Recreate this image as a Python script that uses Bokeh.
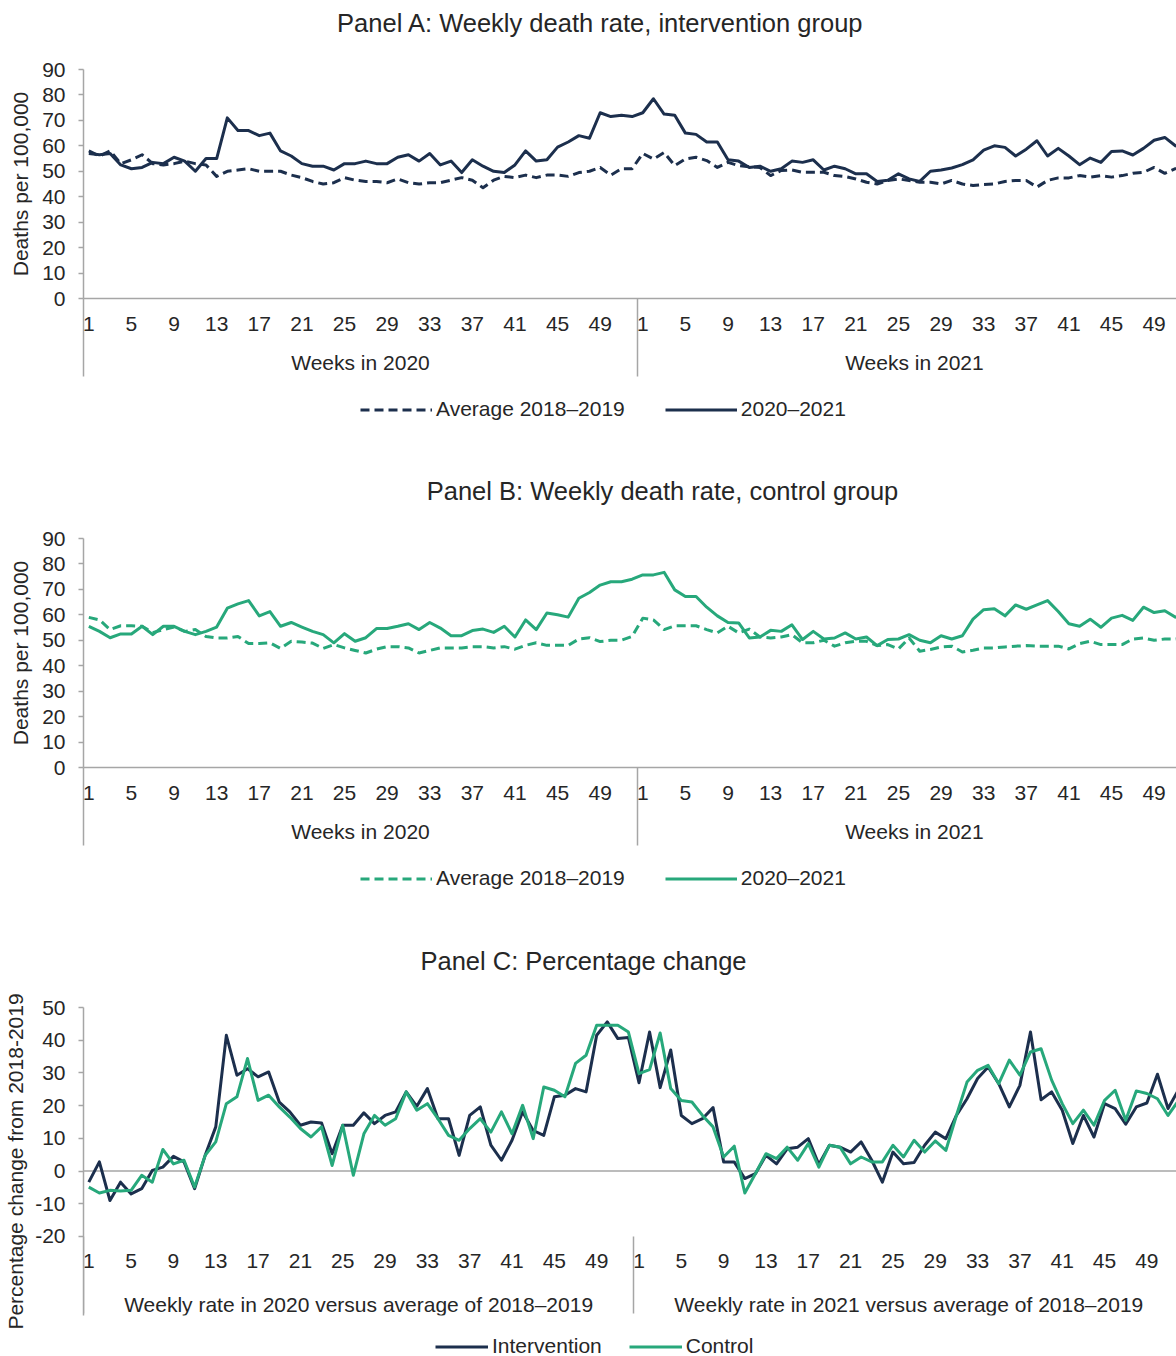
from bokeh.plotting import figure
from bokeh.models import LinearAxis, FixedTicker, Range1d, Span, Legend, LegendItem, Label
from bokeh.layouts import column
from bokeh.embed import file_html
from bokeh.resources import INLINE

# ---------------- data ----------------
weeks_2020 = list(range(1, 53))
weeks_2021 = list(range(1, 53))
tick_weeks = [1, 5, 9, 13, 17, 21, 25, 29, 33, 37, 41, 45, 49]

# Panel A: intervention group, deaths per 100,000
int_avg_2020 = [58, 56, 58, 53, 54.5, 56.5, 53, 52.5, 53, 54, 53, 52.5, 48, 50, 50.5, 51, 50, 50, 50, 48.5,
                47.5, 46, 45, 45.5, 47.5, 46.5, 46, 46, 45.5, 47, 45.5, 45, 45.5, 45.5, 46.5, 47.5, 46.5, 43.5,
                46.5, 48, 47.5, 48.5, 47.5, 48.5, 48.5, 48, 49.5, 50, 51.5, 48.5, 51, 51]
int_avg_2021 = [57, 54.8, 57.4, 52.2, 54.8, 55.5, 54.2, 51.5, 53.5, 52.2, 51.8, 51.5, 48.3, 50.3, 50.5, 49.6,
                49.6, 49.6, 48.3, 47.9, 47, 45.7, 45, 46.4, 47, 46.4, 45.7, 45.7, 45, 46.4, 45, 44.4, 44.8, 45,
                46, 46.4, 46.4, 43.8, 46.4, 47.4, 47.4, 48.3, 47.7, 48.3, 47.7, 48.3, 49.2, 49.6, 51.5, 49.2,
                51, 51.5]
int_rate_2020 = [57, 56.5, 57, 52.5, 51, 51.5, 53.5, 53, 55.5, 54, 50, 55, 55, 71, 66, 66, 64, 65, 58, 56,
                 53, 52, 52, 50.5, 53, 53, 54, 53, 53, 55.5, 56.5, 54, 57, 52.5, 54, 49.5, 54.5, 52, 50, 49.5,
                 52.5, 58, 54, 54.5, 59.5, 61.5, 64, 63, 73, 71.5, 72, 71.5]
int_rate_2021 = [73, 78.5, 72.5, 72, 65, 64.5, 61.5, 61.5, 54.5, 54, 51.5, 52, 50, 51, 54, 53.5, 54.5, 50.5,
                 52, 51, 49, 49, 46, 46.5, 49, 47, 46, 50, 50.5, 51.3, 52.6, 54.5, 58.3, 60, 59.4, 56, 58.7,
                 62, 56, 59, 56, 52.6, 55.2, 53.5, 57.8, 58, 56.4, 59, 62.2, 63.3, 60, 59]

# Panel B: control group, deaths per 100,000
ctl_avg_2020 = [59, 58, 54.2, 55.7, 55.7, 55.5, 53, 54.2, 55.2, 53.5, 54.2, 51.5, 50.9, 50.9, 51.5, 48.7,
                48.7, 49, 46.8, 49.6, 49.3, 48.9, 46.8, 48.3, 47, 46, 45, 46.5, 47.5, 47.5, 47, 45, 46, 47,
                47, 47, 47.5, 47.5, 47, 47.5, 46.5, 48, 49, 48, 48, 48, 50.5, 51, 49.5, 50, 50, 51.5]
ctl_avg_2021 = [58.7, 58, 54.2, 55.7, 55.7, 55.7, 54.2, 52.9, 55.5, 52.9, 54.4, 51.3, 50.9, 51.3, 52.2, 49,
                49, 50, 47.7, 49, 49.6, 49.6, 47.9, 48.3, 46.6, 50.9, 45.7, 46.4, 47.4, 47.7, 45.4, 46.1, 47,
                47, 47.4, 47.7, 47.9, 47.7, 47.7, 47.7, 46.6, 48.7, 49.6, 48.3, 48.3, 48.3, 50.5, 50.9, 50,
                50.5, 50.5, 51]
ctl_rate_2020 = [55.5, 53.5, 51, 52.5, 52.5, 55.5, 52.2, 55.5, 55.5, 53.5, 52.2, 53.5, 55.2, 62.6, 64.3,
                 65.6, 59.6, 61.3, 55.5, 57, 55.2, 53.5, 52.2, 49, 52.6, 49.6, 51, 54.6, 54.6, 55.5, 56.5,
                 54.2, 57, 54.8, 51.8, 51.8, 53.8, 54.4, 53.1, 55.5, 51.3, 58, 54.2, 60.7, 60, 59.1, 66.5,
                 68.8, 71.7, 73, 73, 74]
ctl_rate_2021 = [75.7, 75.7, 76.7, 69.8, 67.2, 67.2, 63, 59.6, 57, 56.8, 50.9, 51.3, 53.9, 53.5, 56.1, 50.3,
                 53.5, 50.5, 50.9, 52.9, 50.5, 51.3, 47.9, 50.3, 50.5, 52.2, 50, 49, 51.8, 50.5, 51.8, 58.3,
                 62, 62.4, 59.6, 63.9, 62.2, 63.9, 65.6, 61.3, 56.5, 55.5, 58.3, 55.1, 58.7, 59.8, 57.8, 63,
                 60.9, 61.6, 59.1, 60]

# Panel C: percentage change from 2018-2019
pct_int_2020 = [-3.4, 2.8, -9, -3.4, -7, -5.4, 0.2, 1.2, 4.5, 2.8, -5.4, 4.8, 13.5, 41.5, 29.3, 31.3, 28.8,
                30.3, 21.1, 18.1, 14, 15, 14.7, 5.3, 14, 14, 17.8, 14.5, 17, 18.1, 24.2, 19.8, 25.2, 16, 16,
                4.8, 17, 19.6, 7.9, 3.3, 9.4, 18.1, 12.4, 10.9, 22.7, 23.2, 25.2, 24.2, 41.5, 45.6, 40.5, 40.8]
pct_int_2021 = [27, 42.5, 25.5, 37, 17, 14.5, 16, 19.4, 2.8, 2.8, -2.3, -0.8, 4.8, 2.2, 6.8, 7.3, 9.9, 2,
                7.9, 7.3, 5.8, 8.9, 3.3, -3.4, 5.8, 2.2, 2.6, 7.9, 11.9, 9.9, 17, 22.1, 28.3, 31.8, 26.7,
                19.6, 26.2, 42.5, 21.8, 24.2, 18.6, 8.4, 17, 10.4, 20.6, 19.1, 14.3, 19.6, 20.8, 29.6, 19.1,
                24.9]
pct_ctl_2020 = [-4.9, -6.7, -5.9, -6.1, -5.9, -1.3, -3.4, 6.6, 2.2, 3.3, -4.9, 4.8, 8.9, 20.6, 22.7, 34.4,
                21.6, 23.2, 19.6, 16.5, 13, 10.4, 13.5, 1.7, 14, -1.3, 11.4, 17, 14, 16, 24.2, 18.6, 20.6,
                16, 10.9, 9.4, 13, 16, 11.9, 18.1, 11.4, 20.1, 9.9, 25.7, 24.7, 22.7, 32.9, 35.4, 44.6,
                44.6, 44.6, 42.5]
pct_ctl_2021 = [29.8, 31, 42.2, 25.2, 21.6, 21.1, 17, 13.5, 4.3, 7.6, -6.7, -0.8, 5.3, 3.8, 7.3, 3.3, 8.4,
                1.2, 7.9, 7.3, 2.2, 4.3, 2.8, 2.8, 7.9, 4.3, 9.4, 5.8, 9.2, 6.3, 17, 27.2, 30.8, 32.3, 26.7,
                33.9, 29.3, 36.4, 37.4, 27.8, 20.6, 14.5, 18.6, 14, 21.6, 24.7, 15.5, 24.5, 23.7, 22.1, 17,
                21.6]

rate_ticks = [0, 10, 20, 30, 40, 50, 60, 70, 80, 90]
pct_ticks = [-20, -10, 0, 10, 20, 30, 40, 50]

# ---------------- styling ----------------
FONT = "Liberation Sans"
NAVY = "#1c2f4d"
GREEN = "#27a87b"
GRAY = "#a6a6a6"
TXT = "#262626"
W = 1176
LEFT = 83

xs = [w - 0.5 for w in weeks_2020] + [len(weeks_2020) + w - 0.5 for w in weeks_2021]
tick_x = [w - 0.5 for w in tick_weeks] + [len(weeks_2020) + w - 0.5 for w in tick_weeks]
tick_over = {}
for w in tick_weeks:
    tick_over[w - 0.5] = str(w)
    tick_over[len(weeks_2020) + w - 0.5] = str(w)
sep_x = [0, len(weeks_2020)]
grp_x = [len(weeks_2020) / 2, len(weeks_2020) + len(weeks_2021) / 2]


def make_fig(height, x_end, y0, y1, top, bottom):
    p = figure(width=W, height=height, x_range=Range1d(0, x_end), y_range=Range1d(y0, y1),
               x_axis_type=None, y_axis_type=None, output_backend="svg", toolbar_location=None,
               min_border_left=LEFT, min_border_right=0, min_border_top=top, min_border_bottom=bottom)
    p.outline_line_color = None
    return p


def add_y_axis(p, ticks, label, label_standoff):
    ay = LinearAxis(ticker=FixedTicker(ticks=ticks), axis_label=label,
                    major_label_overrides={t: str(t) for t in ticks})
    ay.axis_line_color = GRAY
    ay.axis_line_width = 1.5
    ay.major_tick_line_color = GRAY
    ay.major_tick_line_width = 1.5
    ay.major_tick_out = 5
    ay.major_tick_in = 0
    ay.minor_tick_line_color = None
    ay.major_label_standoff = 13
    ay.major_label_text_font = FONT
    ay.major_label_text_font_size = "21px"
    ay.major_label_text_color = TXT
    ay.axis_label_standoff = label_standoff
    ay.axis_label_text_font = FONT
    ay.axis_label_text_font_size = "21px"
    ay.axis_label_text_font_style = "normal"
    ay.axis_label_text_color = TXT
    p.add_layout(ay, "left")


def style_x(ax):
    ax.major_tick_line_color = None
    ax.major_tick_in = 0
    ax.major_tick_out = 0
    ax.major_label_text_font = FONT
    ax.major_label_text_font_size = "21px"
    ax.major_label_text_color = TXT


def add_x_axes(p, groups, draw_line, sep_len, lab_gap, grp_gap, fixed=None):
    ax = LinearAxis(ticker=FixedTicker(ticks=tick_x, minor_ticks=sep_x), major_label_overrides=tick_over)
    if fixed is not None:
        ax.fixed_location = fixed
    style_x(ax)
    ax.axis_line_color = GRAY if draw_line else None
    ax.axis_line_width = 1.5
    ax.minor_tick_line_color = GRAY
    ax.minor_tick_line_width = 1.5
    ax.minor_tick_in = 0
    ax.minor_tick_out = sep_len
    ax.major_label_standoff = lab_gap - sep_len
    p.add_layout(ax, "below")
    ag = LinearAxis(ticker=FixedTicker(ticks=grp_x),
                    major_label_overrides={grp_x[0]: groups[0], grp_x[1]: groups[1]})
    if fixed is not None:
        ag.fixed_location = fixed
    style_x(ag)
    ag.axis_line_color = None
    ag.minor_tick_line_color = None
    ag.major_label_standoff = grp_gap
    p.add_layout(ag, "below")


def strip(height, legend_entries=None, x0=0, y0=0, glyph_w=72, spacing=40, title=None, tx=0, ty=0):
    # a strip holding a panel legend and/or the next panel's title; data units = pixels
    q = figure(width=W, height=height, x_range=Range1d(LEFT, W), y_range=Range1d(0, height),
               x_axis_type=None, y_axis_type=None, output_backend="svg", toolbar_location=None,
               min_border_left=LEFT, min_border_right=0, min_border_top=0, min_border_bottom=0)
    q.outline_line_color = None
    if legend_entries:
        items = []
        for label, color, dash in legend_entries:
            r = q.line([LEFT, LEFT + 1], [-50, -50], line_color=color, line_width=3, line_dash=dash)
            items.append(LegendItem(label=label, renderers=[r]))
        leg = Legend(items=items, orientation="horizontal", location=(x0, y0), glyph_width=glyph_w,
                     glyph_height=21, label_height=21, label_standoff=4, spacing=spacing, padding=0,
                     margin=0, border_line_color=None, background_fill_alpha=0,
                     label_text_font=FONT, label_text_font_size="21px", label_text_color=TXT)
        q.add_layout(leg, "center")
    if title:
        q.add_layout(Label(x=tx, y=ty, text=title, text_align="center", text_baseline="middle",
                           text_font=FONT, text_font_size="25.5px", text_color=TXT))
    return q


def rate_panel(avg, rate, color):
    p = make_fig(350, 102.6, 0, 90, 29, 92)
    add_y_axis(p, rate_ticks, "Deaths per 100,000", 7)
    add_x_axes(p, ["Weeks in 2020", "Weeks in 2021"], True, 78, 18, 17)
    p.line(xs, avg, line_color=color, line_width=3, line_dash="9 5", line_join="round")
    p.line(xs, rate, line_color=color, line_width=3, line_join="round")
    return p


s0 = strip(40, title="Panel A: Weekly death rate, intervention group", tx=600, ty=18)
pA = rate_panel(int_avg_2020 + int_avg_2021, int_rate_2020 + int_rate_2021, NAVY)
s1 = strip(119, [("Average 2018\u20132019", NAVY, "9 5"), ("2020\u20132021", NAVY, "solid")], 277, 88,
           title="Panel B: Weekly death rate, control group", tx=662, ty=19)
pB = rate_panel(ctl_avg_2020 + ctl_avg_2021, ctl_rate_2020 + ctl_rate_2021, GREEN)
s2 = strip(116, [("Average 2018\u20132019", GREEN, "9 5"), ("2020\u20132021", GREEN, "solid")], 277, 85,
           title="Panel C: Percentage change", tx=583, ty=15)

# Panel C: the frame runs below -20 so that the category axes (fixed at -20), their separators
# and group labels fall inside it, and the long axis title sits low as in the original
pC = make_fig(357, 103.3, -44.16, 50, 32, 17)
add_y_axis(pC, pct_ticks, "Percentage change from 2018-2019", 5)
add_x_axes(pC, ["Weekly rate in 2020 versus average of 2018\u20132019",
                "Weekly rate in 2021 versus average of 2018\u20132019"], False, 77, 18, 57, fixed=-20)
pC.add_layout(Span(location=0, dimension="width", line_color=GRAY, line_width=1.5, level="underlay"))
pC.line(xs, pct_int_2020 + pct_int_2021, line_color=NAVY, line_width=3, line_join="round")
pC.line(xs, pct_ctl_2020 + pct_ctl_2021, line_color=GREEN, line_width=3, line_join="round")
s3 = strip(24, [("Intervention", NAVY, "solid"), ("Control", GREEN, "solid")], 352, -2, 53, 27)

layout = column(s0, pA, s1, pB, s2, pC, s3, spacing=0)
open("out.html", "w").write(file_html(layout, INLINE))
